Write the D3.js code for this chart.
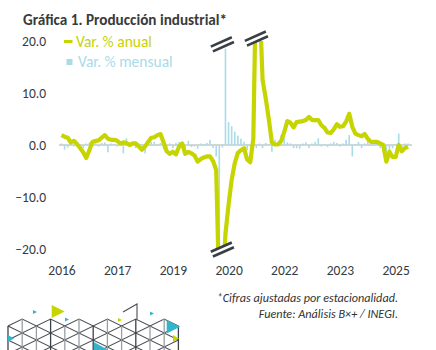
<!DOCTYPE html>
<html lang="es">
  <head>
    <meta charset="UTF-8" />
    <title>Producción industrial</title>
    <script src="https://cdn.jsdelivr.net/npm/d3@7/dist/d3.min.js"></script>
    <style>
      body { margin: 0; background: #fff; }
      text { font-family: Carlito, Lato, sans-serif; }
    </style>
  </head>
  <body>
    <div id="wrapper"></div>
    <script>
      // meses ene-2016 .. may-2025
      const months = [];
      for (let yr = 2016; yr <= 2025; yr++) {
        for (let m = 1; m <= 12; m++) {
          if (yr === 2025 && m > 5) break;
          months.push(`${yr}-${String(m).padStart(2, "0")}`);
        }
      }

      // Var. % anual
      const anual = [
        1.9, 1.6, 1.4, 0.5, 0.8, 0.2, -0.6, -1.4, -2.5, -1.0, 0.6, 0.8,
        0.9, 1.4, 1.9, 1.2, 1.0, 1.0, 0.8, 0.3, 0.5, 0.4, 0.0, 0.3,
        0.3, -0.3, -0.9, -0.3, 0.6, 1.4, 1.5, 1.9, 2.1, 0.5, -1.2, -1.7,
        -1.3, -1.8, -0.3, 0.3, -1.7, -1.3, -1.6, -2.0, -3.2, -2.7, -2.4, -2.2,
        -2.2, -3.1, -4.8, -29.0, -28.0, -17.0, -11.5, -6.7, -3.5, -1.5, -1.0, -0.6,
        -2.8, -3.3, 1.2, 36.0, 28.0, 12.5, 9.0, 5.0, 0.5, 0.1, 0.1, 0.8,
        2.5, 4.6, 4.3, 3.4, 4.4, 4.5, 4.6, 4.8, 5.4, 4.8, 4.8, 4.8,
        3.8, 3.3, 2.4, 2.3, 3.0, 4.0, 3.5, 3.6, 4.5, 6.0, 3.5, 2.2,
        1.9, 1.7, 2.1, 1.2, 0.6, 0.6, 0.6, 0.3, 0.0, -3.2, -1.3, -2.3,
        -2.3, 0.0, -1.2, -0.6, -0.3,
      ];

      // Var. % mensual
      const mensual = [
        0.3, -0.9, -0.5, 0.4, -0.3, 0.2, -0.4, -0.6, 0.3, 0.5, 0.4, 0.6,
        -0.3, 0.4, 0.5, -1.4, 0.3, 0.2, -0.3, 0.4, -1.6, 1.3, -0.3, 0.2,
        -0.6, 0.3, 0.2, -1.6, 0.4, 0.6, 0.6, -0.2, 0.4, -0.8, -0.5, 0.3,
        -0.6, 0.4, 0.6, -0.3, -0.5, 0.8, -0.4, -0.3, -0.7, 0.3, 0.2, 0.4,
        1.0, -0.6, -2.2, -25.0, -0.5, 18.5, 4.4, 3.6, 2.6, 1.8, 1.2, 0.6,
        -1.0, -0.3, 0.5, -0.6, 0.3, -0.6, 0.4, 0.2, -1.3, 1.0, 0.4, 1.9,
        1.3, 0.5, 0.3, -0.6, -0.6, -0.7, 0.3, 0.5, -0.6, 0.3, 0.6, 1.3,
        -0.3, 0.2, -0.4, 0.3, 0.6, 0.4, -0.3, 0.3, 1.0, 1.9, -2.2, 0.2,
        0.6, -0.6, 0.3, 1.0, -0.2, 0.3, 0.6, -0.6, -0.4, -1.3, -1.0, -0.6,
        0.2, 2.2, -0.6, 0.3, 0.3,
      ];

      const xTickMonths = ["2016-01", "2017-07", "2019-01", "2020-07", "2022-01", "2023-07", "2025-01"];
      const xTickLabels = ["2016", "2017", "2019", "2020", "2022", "2023", "2025"];
      const yTicks = [-20, -10, 0, 10, 20];
      // cortes de eje (mes, valor)
      const breaks = [
        { month: "2020-05", value: 20, dy: 3.3 },
        { month: "2021-04", value: 20, dy: -2.4 },
        { month: "2020-05", value: -20, dy: 0.5 },
      ];

      const width = 436;
      const height = 350;
      const green = "#c6d400";
      const blue = "#a9dbe8";
      const textColor = "#333b44";

      const svg = d3
        .select("#wrapper")
        .append("svg")
        .attr("width", width)
        .attr("height", height);

      const x = d3.scalePoint().domain(months).range([61.5, 408]);
      const y = d3.scaleLinear().domain([-20, 20]).range([249, 41]);

      svg
        .append("defs")
        .append("clipPath")
        .attr("id", "plot-clip")
        .append("rect")
        .attr("x", 50)
        .attr("y", y(20))
        .attr("width", 370)
        .attr("height", y(-20) - y(20));

      // titulo
      svg
        .append("text")
        .attr("x", 23)
        .attr("y", 25)
        .attr("font-size", 15.2)
        .attr("font-weight", 700)
        .attr("fill", "#3a3a3a")
        .text("Gráfica 1. Producción industrial*");

      const plot = svg.append("g").attr("clip-path", "url(#plot-clip)");

      // linea de cero
      plot
        .append("line")
        .attr("x1", 59)
        .attr("x2", 412)
        .attr("y1", y(0))
        .attr("y2", y(0))
        .attr("stroke", "#c8c8c8")
        .attr("stroke-width", 1.5);

      plot
        .selectAll("rect.bar")
        .data(mensual)
        .join("rect")
        .attr("class", "bar")
        .attr("x", (d, i) => x(months[i]) - 0.8)
        .attr("width", 1.6)
        .attr("y", (d) => y(Math.max(0, d)))
        .attr("height", (d) => Math.abs(y(d) - y(0)))
        .attr("fill", blue);

      const line = d3
        .line()
        .x((d, i) => x(months[i]))
        .y((d) => y(d));

      plot
        .append("path")
        .datum(anual)
        .attr("d", line)
        .attr("fill", "none")
        .attr("stroke", green)
        .attr("stroke-width", 4.2)
        .attr("stroke-linejoin", "round");

      // marcas de corte
      breaks.forEach((b) => {
        const cx = x(b.month);
        const cy = y(b.value) + b.dy;
        const g = svg.append("g").attr("transform", `translate(${cx},${cy}) rotate(-24)`);
        g.append("rect").attr("x", -11.5).attr("y", -3).attr("width", 23).attr("height", 6).attr("fill", "#fff");
        [-2.6, 2.6].forEach((o) => {
          g.append("line")
            .attr("x1", -11.5)
            .attr("x2", 11.5)
            .attr("y1", o)
            .attr("y2", o)
            .attr("stroke", "#3a3f45")
            .attr("stroke-width", 2.6);
        });
      });

      // ejes
      const yAxis = svg
        .append("g")
        .attr("transform", "translate(46,0)")
        .call(d3.axisLeft(y).tickValues(yTicks).tickFormat(d3.format(".1f")).tickSize(0).tickPadding(0));
      yAxis.select(".domain").remove();
      yAxis.selectAll("text").attr("font-size", 13.5).attr("fill", textColor).style("font-family", "Carlito, Lato, sans-serif");

      const xAxis = svg
        .append("g")
        .attr("transform", "translate(0,265)")
        .call(
          d3
            .axisBottom(x)
            .tickValues(xTickMonths)
            .tickFormat((d, i) => xTickLabels[i])
            .tickSize(0)
            .tickPadding(0)
        );
      xAxis.select(".domain").remove();
      xAxis.selectAll("text").attr("font-size", 13.5).attr("fill", textColor).style("font-family", "Carlito, Lato, sans-serif");

      // leyenda
      svg.append("line").attr("x1", 64).attr("x2", 72.5).attr("y1", 41.5).attr("y2", 41.5).attr("stroke", green).attr("stroke-width", 3);
      svg.append("text").attr("x", 76).attr("y", 46.5).attr("font-size", 15.5).attr("fill", green).text("Var. % anual");
      svg.append("rect").attr("x", 66.5).attr("y", 59).attr("width", 6).attr("height", 6).attr("fill", blue);
      svg.append("text").attr("x", 78).attr("y", 66.5).attr("font-size", 15.5).attr("fill", blue).text("Var. % mensual");

      // notas
      const notes = svg.append("g").attr("font-size", 12.2).attr("font-style", "italic").attr("fill", "#333").attr("text-anchor", "end");
      notes.append("text").attr("x", 398).attr("y", 302).text("*Cifras ajustadas por estacionalidad.");
      notes.append("text").attr("x", 398).attr("y", 318).text("Fuente: Análisis B×+ / INEGI.");

      // decoracion
      const deco = svg.append("g");
      const step = 14.2;
      const x0 = 8;
      for (let r = 0; r < 4; r++) {
        const y0 = 319 + r * 14;
        const up = d3.range(13).map((k) => [x0 + k * step, y0 + (k % 2 === 0 ? 7 : 0)]);
        const down = d3.range(13).map((k) => [x0 + k * step, y0 + 7 + (k % 2 === 0 ? 0 : 7)]);
        [up, down].forEach((pts) => {
          deco.append("path").attr("d", d3.line()(pts)).attr("fill", "none").attr("stroke", "#4a4f55").attr("stroke-width", 1.1);
        });
      }
      d3.range(13).forEach((k) => {
        deco
          .append("line")
          .attr("x1", x0 + k * step)
          .attr("x2", x0 + k * step)
          .attr("y1", k % 2 === 0 ? 326 : 319)
          .attr("y2", 350)
          .attr("stroke", k % 3 === 0 ? "#3d4248" : "#9a9ea3")
          .attr("stroke-width", 1.3);
      });
      deco.append("path").attr("d", "M123,312 L137,304 L137,319").attr("fill", "none").attr("stroke", "#4a4f55").attr("stroke-width", 1.1);
      const flags = [
        [51.7, 305, 13, 13, "#c6d400"],
        [33, 310, 4, 4, "#35b5cc"],
        [65, 317.5, 4, 4, "#35b5cc"],
        [118, 318, 4, 4, "#c6d400"],
        [150, 311.5, 4, 4, "#35b5cc"],
        [166.7, 320, 13.5, 13.5, "#35b5cc"],
        [173, 335, 6, 7, "#c6d400"],
        [8, 335, 6, 7, "#35b5cc"],
      ];
      flags.forEach(([fx, fy, w, h, c]) => {
        deco.append("path").attr("d", `M${fx},${fy} L${fx + w},${fy + h / 2} L${fx},${fy + h} Z`).attr("fill", c);
      });
      deco.append("path").attr("d", "M94,342 L108,350 L94,350 Z").attr("fill", "#35b5cc");
    </script>
  </body>
</html>
